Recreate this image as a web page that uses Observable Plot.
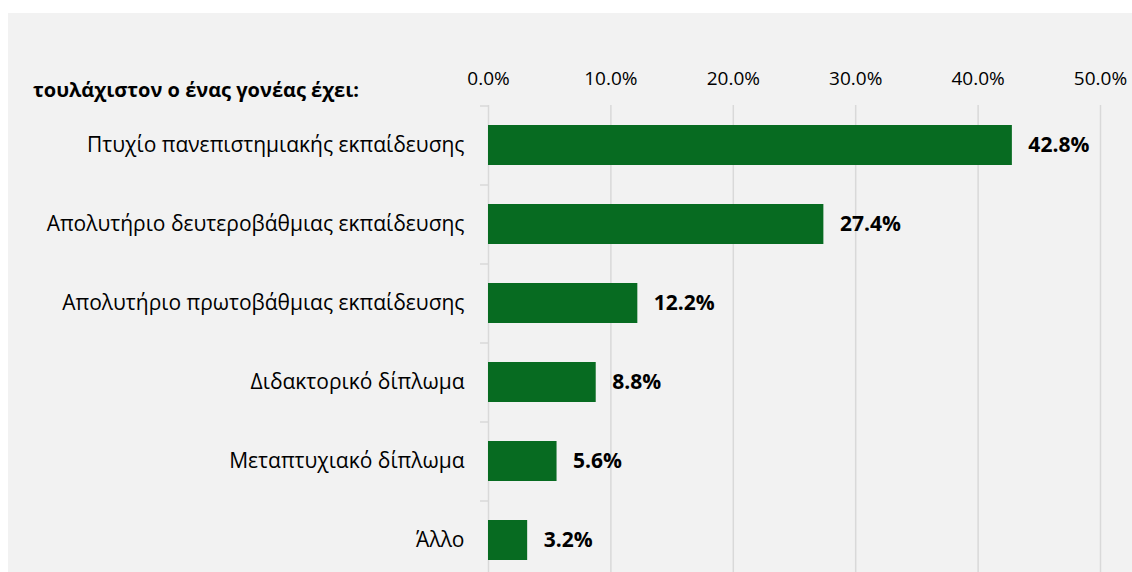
<!DOCTYPE html>
<html><head><meta charset="utf-8">
<script src="https://cdn.jsdelivr.net/npm/d3@7"></script>
<script src="https://cdn.jsdelivr.net/npm/@observablehq/plot@0.6"></script>
<style>
html,body{margin:0;padding:0;background:#fff;overflow:hidden;}
#panel{position:absolute;left:8px;top:13px;width:1124px;height:559px;background:#f2f2f2;overflow:hidden;}
#title{position:absolute;left:25px;top:63px;font-family:'Open Sans',sans-serif;font-weight:bold;font-size:20px;color:#000;white-space:nowrap;}
#chart{position:absolute;left:0;top:0;}
</style></head><body><div id="panel"><div id="chart"></div><div id="title"></div></div>
<script>
const categories = [
  "Πτυχίο πανεπιστημιακής εκπαίδευσης",
  "Απολυτήριο δευτεροβάθμιας εκπαίδευσης",
  "Απολυτήριο πρωτοβάθμιας εκπαίδευσης",
  "Διδακτορικό δίπλωμα",
  "Μεταπτυχιακό δίπλωμα",
  "Άλλο"
];
const values = [42.8, 27.4, 12.2, 8.8, 5.6, 3.2];
const xTicks = [0, 10, 20, 30, 40, 50];
const titleText = "τουλάχιστον ο ένας γονέας έχει:";

const data = categories.map((c, i) => ({category: c, value: values[i]}));
document.getElementById("title").textContent = titleText;

const chart = Plot.plot({
  width: 1124, height: 566,
  marginLeft: 480, marginRight: 32, marginTop: 92, marginBottom: 0,
  style: {background: "transparent", fontFamily: "'Open Sans', sans-serif", color: "#000"},
  x: {domain: [0, 50], ticks: xTicks},
  y: {domain: categories, paddingInner: 0.5, paddingOuter: 0.25},
  marks: [
    Plot.ruleX(xTicks, {stroke: "#d9d9d9", strokeWidth: 1.5}),
    Plot.axisX({anchor: "top", ticks: xTicks, tickSize: 0, tickPadding: 21, tickFormat: d => d.toFixed(1) + "%", fontSize: 19, label: null, fill: "#000"}),
    Plot.axisY({tickSize: 0, tickPadding: 24, fontSize: 21, label: null, fill: "#000"}),
    Plot.axisY({tickSize: 8, tickFormat: () => "", dy: -39.5, stroke: "#d9d9d9", strokeWidth: 1.5, label: null}),
    Plot.barX(data, {x: "value", y: "category", fill: "#076b21"}),
    Plot.text(data, {x: "value", y: "category", text: d => d.value.toFixed(1) + "%", textAnchor: "start", dx: 16, fontWeight: "bold", fontSize: 21, fill: "#000"})
  ]
});
document.getElementById("chart").appendChild(chart);
</script></body></html>
